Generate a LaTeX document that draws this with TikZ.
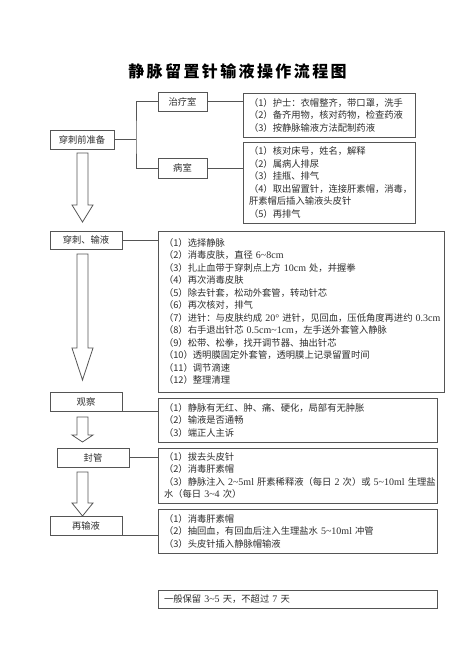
\documentclass[tikz,border=0pt]{standalone}
\usepackage{fontspec}
\setmainfont{Noto Sans CJK SC}
\newfontfamily\lat{Liberation Serif}
\newcommand\tild{\textasciitilde}
\newcommand\nm[1]{{\lat\fontsize{10}{12.5}\selectfont #1}}
\definecolor{linec}{HTML}{555555}
\definecolor{txt}{HTML}{2E2E2E}
\begin{document}
\begin{tikzpicture}[x=1pt,y=-1pt,
  box/.style={draw=linec,line width=0.8pt,inner sep=0pt,text=txt,
    font=\fontsize{9.3}{12.5}\selectfont},
  lbox/.style={box,align=center},
  rbox/.style={box,align=left,inner xsep=6pt,inner ysep=0pt},
  conn/.style={draw=linec,line width=0.8pt},
  arrowline/.style={draw=linec,line width=0.8pt,fill=white,line join=miter}]
\useasboundingbox[fill=white] (0,0) rectangle (474,670);
\newcommand\blkarrow[3]{\draw[arrowline] (77,#1) -- (88,#1) -- (88,#2) -- (93,#2) -- (82.5,#3) -- (72,#2) -- (77,#2) -- cycle;}

% title
\node[text=black,font=\fontsize{16}{16}\selectfont\bfseries,inner sep=0pt] (title) at (237.5,71)
 {静\hspace{2.4pt}脉\hspace{2.4pt}留\hspace{2.4pt}置\hspace{2.4pt}针\hspace{2.4pt}输\hspace{2.4pt}液\hspace{2.4pt}操\hspace{2.4pt}作\hspace{2.4pt}流\hspace{2.4pt}程\hspace{2.4pt}图};

% left boxes
\node[lbox,minimum width=64pt,minimum height=19pt] (pre) at (82,139.5) {穿刺前准备};
\node[lbox,minimum width=49pt,minimum height=19pt] (zl) at (182.5,101.5) {治疗室};
\node[lbox,minimum width=49pt,minimum height=20pt] (bs) at (182.5,168) {病室};
\node[lbox,minimum width=72pt,minimum height=18pt] (cc) at (86,240) {穿刺、输液};
\node[lbox,minimum width=72pt,minimum height=19pt] (gc) at (86,401.5) {观察};
\node[lbox,minimum width=72pt,minimum height=19pt] (fg) at (93,457.5) {封管};
\node[lbox,minimum width=72pt,minimum height=19pt] (zs) at (86,525.5) {再输液};

% right boxes
\node[rbox,minimum width=172pt,minimum height=44pt,text width=160pt] (b1) at (329,115)
 {（1）护士：衣帽整齐，带口罩，洗手\\（2）备齐用物，核对药物，检查药液\\（3）按静脉输液方法配制药液};
\node[rbox,minimum width=172pt,minimum height=81pt,text width=160pt] (b2) at (329,182.5)
 {（1）核对床号，姓名，解释\\（2）属病人排尿\\（3）挂瓶、排气\\\mbox{（4）取出留置针，连接肝素帽，消毒，}\\肝素帽后插入输液头皮针\\（5）再排气};
\node[rbox,minimum width=286pt,minimum height=161pt,text width=274pt] (b3) at (301,311.5)
 {（1）选择静脉\\
  （2）消毒皮肤，直径 \nm{6\tild8cm}\\
  （3）扎止血带于穿刺点上方 \nm{10cm} 处，并握拳\\
  （4）再次消毒皮肤\\
  （5）除去针套，松动外套管，转动针芯\\
  （6）再次核对，排气\\
  \mbox{（7）进针：与皮肤约成 \nm{20°} 进针，见回血，压低角度再进约 \nm{0.3cm}}\\
  （8）右手退出针芯 \nm{0.5cm\tild1cm}，左手送外套管入静脉\\
  （9）松带、松拳，找开调节器、抽出针芯\\
  （10）透明膜固定外套管，透明膜上记录留置时间\\
  （11）调节滴速\\
  （12）整理清理};
\node[rbox,minimum width=279pt,minimum height=44pt,text width=267pt] (b4) at (297.5,420)
 {（1）静脉有无红、肿、痛、硬化，局部有无肿胀\\（2）输液是否通畅\\（3）端正人主诉};
\node[rbox,minimum width=279pt,minimum height=55pt,text width=267pt] (b5) at (297.5,475.5)
 {（1）拔去头皮针\\（2）消毒肝素帽\\\mbox{（3）静脉注入 \nm{2\tild5ml} 肝素稀释液（每日 \nm{2} 次）或 \nm{5\tild10ml} 生理盐}\\水（每日 \nm{3\tild4} 次）};
\node[rbox,minimum width=279pt,minimum height=44pt,text width=267pt] (b6) at (297.5,531)
 {（1）消毒肝素帽\\（2）抽回血，有回血后注入生理盐水 \nm{5\tild10ml} 冲管\\（3）头皮针插入静脉帽输液};
\node[rbox,minimum width=279pt,minimum height=18pt,text width=267pt] (b7) at (297.5,599)
 {一般保留 \nm{3\tild5} 天，不超过 \nm{7} 天};

% connectors
\coordinate (j) at (136,0);
\draw[conn] (pre.east) -- (pre.east -| j);
\draw[conn] (zl.west) -| (j |- pre.east) |- (bs.west);
\draw[conn] (zl.east) -- (zl.east -| b1.west);
\draw[conn] (bs.east) -- (bs.east -| b2.west);
\draw[conn] (cc.east) -- (cc.east -| b3.west);
\draw[conn] (gc.south east) -- (gc.south east -| b4.west);
\draw[conn] (fg.east) -- (fg.east -| b5.west);
\draw[conn] (zs.south east) -- (zs.south east -| b6.west);

% block arrows
\blkarrow{153}{205}{222}
\blkarrow{254}{348}{380}
\blkarrow{417}{435}{442}
\blkarrow{472}{503}{516}
\end{tikzpicture}
\end{document}
